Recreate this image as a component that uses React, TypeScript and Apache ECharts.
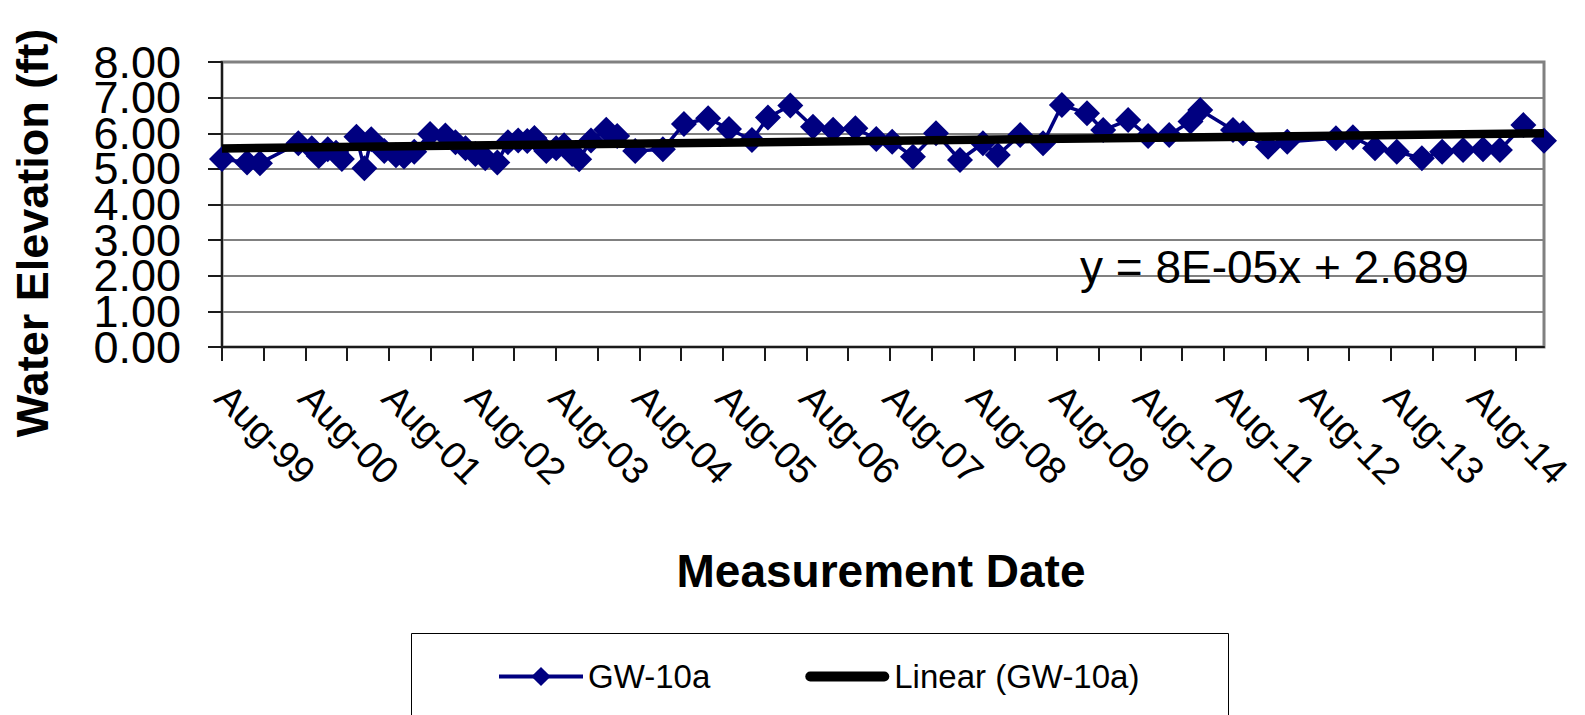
import React, { useEffect, useRef } from 'react';
import * as echarts from 'echarts';

const sampleDates = [
  '1999-08-01', '1999-11-19', '2000-01-15', '2000-06-30', '2000-08-29', '2000-09-28',
  '2000-11-07', '2000-12-13', '2001-01-08', '2001-03-11', '2001-04-15', '2001-05-15',
  '2001-07-11', '2001-09-01', '2001-10-06', '2001-11-20', '2002-01-29', '2002-04-04',
  '2002-05-18', '2002-07-01', '2002-08-14', '2002-09-26', '2002-11-18', '2003-01-04',
  '2003-02-17', '2003-03-28', '2003-04-28', '2003-06-19', '2003-08-02', '2003-09-06',
  '2003-10-11', '2003-11-11', '2004-01-02', '2004-03-08', '2004-04-25', '2004-07-13',
  '2004-11-12', '2005-02-12', '2005-05-28', '2005-08-28', '2005-12-06', '2006-02-14',
  '2006-05-22', '2006-08-30', '2006-11-26', '2007-03-02', '2007-06-02', '2007-08-11',
  '2007-11-10', '2008-02-19', '2008-06-03', '2008-09-12', '2008-11-16', '2009-02-21',
  '2009-06-01', '2009-08-23', '2009-12-11', '2010-02-19', '2010-06-08', '2010-09-04',
  '2010-12-05', '2011-03-07', '2011-04-19', '2011-09-10', '2011-10-24', '2012-02-11',
  '2012-05-04', '2012-12-04', '2013-02-16', '2013-05-23', '2013-08-27', '2013-12-15',
  '2014-03-12', '2014-06-12', '2014-09-08', '2014-11-21', '2015-03-02', '2015-06-01',
];

const elevations = [
  5.28, 5.18, 5.16, 5.72, 5.58, 5.36,
  5.55, 5.45, 5.28, 5.90, 5.02, 5.83,
  5.50, 5.38, 5.35, 5.48, 5.98, 5.94,
  5.75, 5.58, 5.42, 5.30, 5.18, 5.75,
  5.80, 5.78, 5.87, 5.50, 5.58, 5.66,
  5.42, 5.27, 5.80, 6.10, 5.92, 5.50,
  5.55, 6.26, 6.42, 6.12, 5.81, 6.44,
  6.78, 6.18, 6.10, 6.14, 5.84, 5.76,
  5.34, 6.00, 5.25, 5.72, 5.39, 5.95,
  5.72, 6.79, 6.56, 6.09, 6.37, 5.92,
  5.95, 6.33, 6.65, 6.09, 6.00, 5.62,
  5.76, 5.86, 5.89, 5.58, 5.48, 5.30,
  5.48, 5.53, 5.55, 5.53, 6.23, 5.79,
];

const xTickLabels = [
  'Aug-99', 'Aug-00', 'Aug-01', 'Aug-02', 'Aug-03', 'Aug-04', 'Aug-05', 'Aug-06',
  'Aug-07', 'Aug-08', 'Aug-09', 'Aug-10', 'Aug-11', 'Aug-12', 'Aug-13', 'Aug-14',
];

const yTickValues = [0, 1, 2, 3, 4, 5, 6, 7, 8];

const seriesName = 'GW-10a';
const trendName = 'Linear (GW-10a)';
const equationText = 'y = 8E-05x + 2.689';

const FONT = '"Liberation Sans", Arial, sans-serif';

function parts(s: string) {
  const [y, m, d] = s.split('-').map(Number);
  return { y, m, d };
}
// months elapsed since Aug 1999 (axis coordinate)
function monthsFromStart(s: string) {
  const { y, m, d } = parts(s);
  const dim = new Date(Date.UTC(y, m, 0)).getUTCDate();
  return (y - 1999) * 12 + (m - 8) + (d - 1) / dim;
}
// Excel serial date (used for the linear trend, like Excel does)
function excelSerial(s: string) {
  const { y, m, d } = parts(s);
  return Date.UTC(y, m - 1, d) / 86400000 + 25569;
}

export default function App() {
  const ref = useRef<HTMLDivElement>(null);

  useEffect(() => {
    if (!ref.current) return;
    const chart = echarts.init(ref.current, undefined, { renderer: 'svg' });

    const xs = sampleDates.map(monthsFromStart);
    const serials = sampleDates.map(excelSerial);
    const n = elevations.length;
    let sx = 0, sy = 0, sxx = 0, sxy = 0;
    for (let i = 0; i < n; i++) {
      sx += serials[i]; sy += elevations[i];
      sxx += serials[i] * serials[i]; sxy += serials[i] * elevations[i];
    }
    const slope = (n * sxy - sx * sy) / (n * sxx - sx * sx);
    const intercept = (sy - slope * sx) / n;
    const trendData = [
      [xs[0], intercept + slope * serials[0]],
      [xs[n - 1], intercept + slope * serials[n - 1]],
    ];

    const tickValues: number[] = [];
    for (let v = 0; v <= xs[n - 1]; v += 6) tickValues.push(v);
    const labelValues = xTickLabels.map((_, i) => i * 12);

    const axisDark = { color: '#1a1a1a', width: 2 };
    const yMin = yTickValues[0];
    const yMax = yTickValues[yTickValues.length - 1];

    const yLabelStyle = {
      formatter: (v: number) => v.toFixed(2),
      fontSize: 45,
      lineHeight: 32,
      margin: 41,
      fontFamily: FONT,
      color: '#000',
      hideOverlap: false,
    };

    chart.setOption({
      animation: false,
      backgroundColor: '#ffffff',
      grid: {
        left: 222, top: 62, width: 1322, height: 285,
        show: true, borderColor: '#808080', borderWidth: 3, backgroundColor: 'transparent',
      },
      xAxis: {
        type: 'value',
        min: 0,
        max: xs[n - 1],
        interval: 6,
        axisLine: { show: true, onZero: false, lineStyle: axisDark },
        axisTick: { show: true, customValues: tickValues, length: 14, lineStyle: axisDark },
        axisLabel: {
          customValues: labelValues,
          formatter: (v: number) => xTickLabels[Math.round(v / 12)] ?? '',
          rotate: -45,
          margin: 44,
          fontSize: 38,
          fontFamily: FONT,
          color: '#000',
          hideOverlap: false,
        },
        splitLine: { show: false },
      },
      yAxis: [
        {
          type: 'value',
          position: 'left',
          min: yMin,
          max: yMax,
          interval: 1,
          axisLine: { show: true, lineStyle: axisDark },
          axisTick: { show: true, length: 14, lineStyle: axisDark },
          axisLabel: { ...yLabelStyle, customValues: yTickValues.filter((v) => v % 2 === 0) },
          splitLine: { show: true, lineStyle: { color: '#808080', width: 2 } },
        },
        {
          type: 'value',
          position: 'left',
          offset: 0,
          min: yMin,
          max: yMax,
          interval: 1,
          axisLine: { show: false },
          axisTick: { show: false },
          axisLabel: { ...yLabelStyle, customValues: yTickValues.filter((v) => v % 2 === 1) },
          splitLine: { show: false },
        },
      ],
      legend: {
        left: 497,
        top: 660,
        padding: 0,
        itemWidth: 84,
        itemHeight: 24,
        itemGap: 95,
        selectedMode: false,
        textStyle: { fontSize: 33, fontFamily: FONT, color: '#000' },
        data: [
          { name: seriesName, lineStyle: { width: 4, color: '#000080' } },
          {
            name: trendName,
            icon: 'path://M5,0 H79 A5,5 0 0 1 79,10 H5 A5,5 0 0 1 5,0 Z',
            itemStyle: { color: '#000' },
          },
        ],
      },
      series: [
        {
          type: 'line',
          name: seriesName,
          yAxisIndex: 0,
          data: xs.map((x, i) => [x, elevations[i]]),
          symbol: 'diamond',
          symbolSize: 26,
          lineStyle: { color: '#000080', width: 3.5 },
          itemStyle: { color: '#000080' },
          z: 2,
        },
        {
          type: 'line',
          name: trendName,
          yAxisIndex: 0,
          data: trendData,
          symbol: 'none',
          lineStyle: { color: '#000', width: 8.5 },
          itemStyle: { color: '#000' },
          z: 3,
        },
      ],
      graphic: [
        {
          type: 'text',
          x: 32,
          y: 233,
          rotation: Math.PI / 2,
          style: {
            text: 'Water Elevation (ft)',
            font: `bold 45px ${FONT}`,
            fill: '#000',
            textAlign: 'center',
            textVerticalAlign: 'middle',
          },
        },
        {
          type: 'text',
          x: 881,
          y: 571,
          style: {
            text: 'Measurement Date',
            font: `bold 46px ${FONT}`,
            fill: '#000',
            textAlign: 'center',
            textVerticalAlign: 'middle',
          },
        },
        {
          type: 'text',
          x: 1080,
          y: 267,
          z: 10,
          style: {
            text: equationText,
            font: `46px ${FONT}`,
            fill: '#000',
            textAlign: 'left',
            textVerticalAlign: 'middle',
          },
        },
        {
          type: 'rect',
          shape: { x: 411.5, y: 633.5, width: 817, height: 120 },
          style: { fill: 'none', stroke: '#000', lineWidth: 1 },
        },
      ],
    });

    return () => chart.dispose();
  }, []);

  return (
    <div
      ref={ref}
      style={{ position: 'absolute', left: 0, top: 0, width: 1585, height: 715 }}
    />
  );
}
